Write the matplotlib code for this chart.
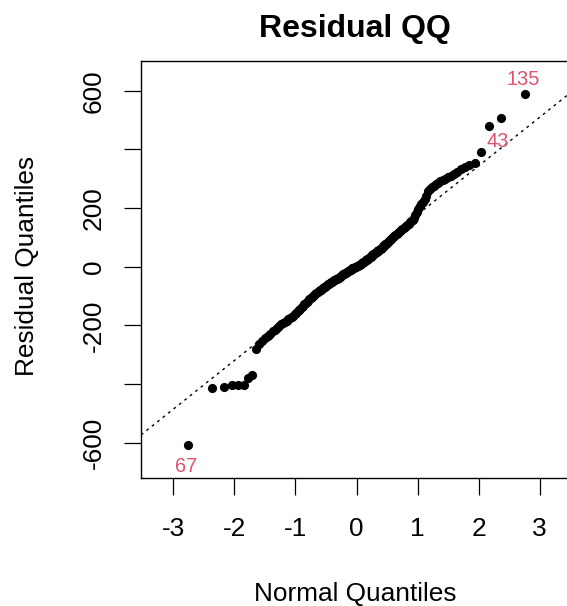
from statistics import NormalDist

import matplotlib
matplotlib.use("Agg")
import matplotlib.pyplot as plt

plt.rcParams["font.family"] = ["Liberation Sans", "DejaVu Sans"]
plt.rcParams["axes.unicode_minus"] = False

# sorted residuals (n = 170)
residuals = [
    -608, -415, -409, -404, -404, -402, -381, -370, -280, -263,
    -253, -244, -236, -228, -221, -215, -208, -202, -196, -191,
    -188, -184, -180, -176, -172, -167, -162, -157, -152, -147,
    -143, -139, -134, -128, -124, -120, -116, -111, -107, -103,
    -100, -97, -94, -90, -87, -84, -81, -79, -76, -73,
    -70, -68, -65, -62, -60, -58, -55, -53, -51, -48,
    -46, -44, -42, -41, -39, -37, -34, -32, -30, -28,
    -26, -24, -22, -20, -18, -16, -14, -12, -10, -8,
    -6, -5, -3, -1, 0, 2, 3, 5, 6, 8,
    10, 12, 15, 17, 19, 22, 24, 27, 29, 32,
    34, 37, 39, 42, 44, 46, 49, 51, 53, 56,
    59, 62, 65, 69, 72, 76, 79, 82, 86, 89,
    92, 96, 99, 103, 106, 109, 112, 116, 119, 122,
    126, 129, 133, 136, 140, 143, 147, 151, 155, 159,
    166, 176, 188, 198, 208, 215, 222, 230, 243, 257,
    266, 272, 277, 282, 286, 291, 296, 301, 305, 309,
    316, 324, 332, 340, 347, 353, 392, 480, 506, 588,
]

# labelled outliers: observation id -> rank in the sorted residuals
outlier_ids = ["67", "43", "135"]
outlier_ranks = [1, 169, 170]
outlier_offsets = [(-2, -22), (-4, -23), (-1, 15)]

# reference line
line_intercept = 12
line_slope = 166

xticks = [-3, -2, -1, 0, 1, 2, 3]
yticks = [-600, -400, -200, 0, 200, 400, 600]
ytick_labels = ["-600", "", "-200", "0", "200", "", "600"]

n = len(residuals)
nd = NormalDist()
theoretical = [nd.inv_cdf((i - 0.5) / n) for i in range(1, n + 1)]

W, H = 567, 606
fig = plt.figure(figsize=(W / 100, H / 100), dpi=100)
ax = fig.add_axes([141 / W, (H - 478) / H, (572 - 141) / W, (478 - 61) / H])

ax.axline((0, line_intercept), slope=line_slope, color="black",
          lw=1.0, linestyle=(0, (2, 3)), zorder=1)
ax.plot(theoretical, residuals, "o", color="black", ms=6.6,
        markeredgewidth=0, zorder=2)

for lab, rank, off in zip(outlier_ids, outlier_ranks, outlier_offsets):
    ax.annotate(lab, (theoretical[rank - 1], residuals[rank - 1]),
                xytext=off, textcoords="offset pixels",
                ha="center", va="center", fontsize=14.4, color="#DF536B",
                annotation_clip=False)

ax.set_xlim(-3.53, 3.53)
ax.set_ylim(-721, 702)
ax.set_xticks(xticks)
ax.set_xticklabels([str(t) for t in xticks])
ax.set_yticks(yticks)
ax.set_yticklabels(ytick_labels, rotation=90, va="center")
ax.tick_params(axis="both", direction="out", length=12.2, width=0.9,
               labelsize=18.9, colors="black")
ax.tick_params(axis="x", pad=15.6)
ax.tick_params(axis="y", pad=13.3)
for sp in ax.spines.values():
    sp.set_linewidth(1.0)
    sp.set_color("black")

fig.text(355 / W, 1 - 37 / H, "Residual QQ", ha="center", va="baseline",
         fontsize=23, fontweight="bold")
fig.text(355 / W, 1 - 601.5 / H, "Normal Quantiles", ha="center",
         va="baseline", fontsize=18.9)
fig.text(27 / W, 1 - 266 / H, "Residual Quantiles", ha="center",
         va="center", rotation=90, fontsize=18.9)

fig.savefig("out.png", dpi=100)
